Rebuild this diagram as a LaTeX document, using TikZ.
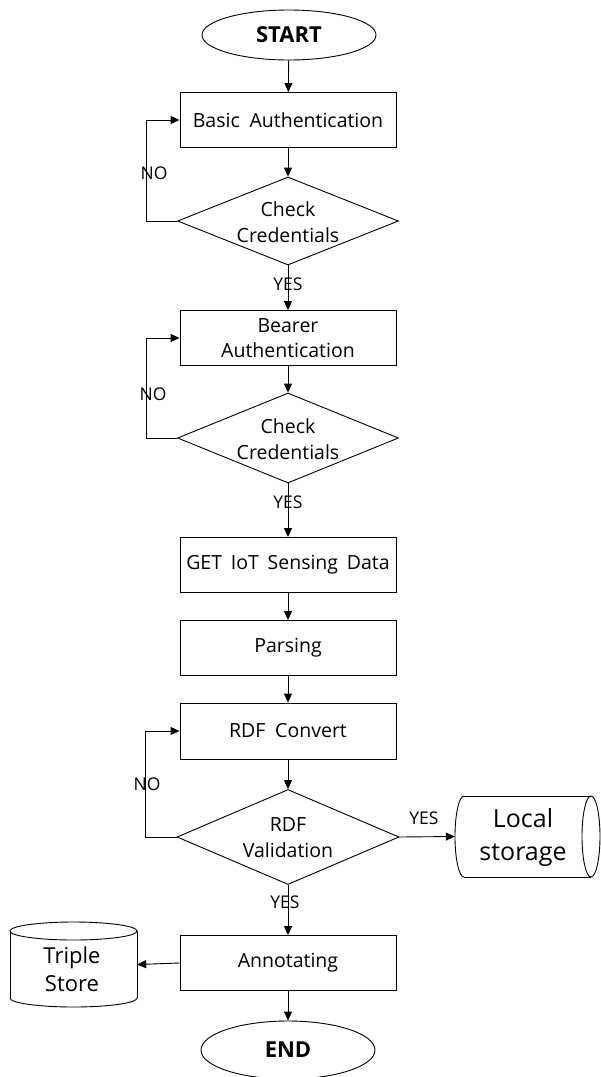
\documentclass[tikz,border=0pt]{standalone}
\usepackage{fontspec}
\setmainfont{Open Sans}
\usetikzlibrary{shapes.geometric,arrows.meta}
\begin{document}
\begin{tikzpicture}[x=1pt,y=-1pt,
  lw/.style={line width=0.9pt},
  box/.style={draw,lw,rectangle,minimum width=216pt,minimum height=55pt,inner sep=0pt,align=center,font=\fontsize{19.5}{25}\selectfont},
  dia/.style={draw,lw,diamond,minimum width=221pt,minimum height=88pt,inner sep=0pt},
  diatext/.style={align=center,inner sep=0pt,font=\fontsize{19.5}{26}\selectfont},
  term/.style={draw,lw,ellipse,minimum width=174pt,minimum height=50pt,inner sep=0pt,font=\bfseries\fontsize{22}{26}\selectfont},
  storebox/.style={rectangle,inner sep=0pt,align=center},
  arr/.style={lw,-{Triangle[length=9pt,width=8pt]}},
  lab/.style={inner sep=0pt,font=\fontsize{17.5}{20}\selectfont}]
\useasboundingbox (0,0) rectangle (601,1077);

\node[term] (start) at (289,35) {START};
\node[box] (basic) at (288,120) {Basic\hspace{0.5em}Authentication};
\node[dia] (d1) at (288,221) {};
\node[diatext] (d1t) at (288,222) {Check\\Credentials};
\node[box] (bearer) at (288,338) {Bearer\\Authentication};
\node[dia,minimum height=90pt] (d2) at (288,438) {};
\node[diatext] (d2t) at (288,439) {Check\\Credentials};
\node[box] (get) at (288,565) {GET\hspace{0.45em}IoT\hspace{0.45em}Sensing\hspace{0.45em}Data};
\node[box] (parse) at (288,648) {Parsing};
\node[box,minimum height=56pt] (rdf) at (288,731) {RDF\hspace{0.5em}Convert};
\node[dia,minimum width=222pt,minimum height=95pt] (d3) at (288,837) {};
\node[diatext] (d3t) at (288,838) {RDF\\Validation};
\node[box] (annot) at (288,963) {Annotating};
\node[term,minimum height=58pt] (end) at (288,1050) {END};

% Local storage (horizontal cylinder)
\node[storebox,minimum width=145pt,minimum height=81pt] (local) at (527.5,836.5) {};
\draw[lw] (464,796) -- (591,796) (464,877) -- (591,877);
\draw[lw] (591,836.5) ellipse [x radius=9pt, y radius=40.5pt];
\draw[lw] (464,796) arc[start angle=90, end angle=270, x radius=9pt, y radius=40.5pt];
\node[storebox,font=\fontsize{25}{33}\selectfont] (localt) at (523,837) {Local\\storage};

% Triple Store (vertical cylinder)
\node[storebox,minimum width=127pt,minimum height=85pt] (triple) at (73.5,964.5) {};
\draw[lw] (10,931) -- (10,998) (137,931) -- (137,998);
\draw[lw] (73.5,931) ellipse [x radius=63.5pt, y radius=9pt];
\draw[lw] (10,998) arc[start angle=180, end angle=360, x radius=63.5pt, y radius=9pt];
\node[storebox,font=\fontsize{22}{28}\selectfont] (triplet) at (72,969) {Triple\\Store};

% main flow
\draw[arr] (start) -- (basic);
\draw[arr] (basic) -- (d1);
\draw[arr] (d1) -- (bearer);
\draw[arr] (bearer) -- (d2);
\draw[arr] (d2) -- (get);
\draw[arr] (get) -- (parse);
\draw[arr] (parse) -- (rdf);
\draw[arr] (rdf) -- (d3);
\draw[arr] (d3) -- (annot);
\draw[arr] (annot) -- (end);
\draw[arr] (d3.east) -- (local.west);
\draw[arr] (annot.west) -- (triple.east);

% NO loops
\draw[arr] (d1.west) -- ++(-31,0) |- (basic.west);
\draw[arr] (d2.west) -- ++(-31,0) |- (bearer.west);
\draw[arr] (d3.west) -- ++(-31,0) |- (rdf.west);

% labels
\node[lab] (no1) at (154,173) {NO};
\node[lab] (no2) at (153,394) {NO};
\node[lab] (no3) at (147,784) {NO};
\node[lab] (yes1) at (288,284) {YES};
\node[lab] (yes2) at (288,502) {YES};
\node[lab] (yes3) at (285,902) {YES};
\node[lab] (yes4) at (424,818) {YES};
\end{tikzpicture}
\end{document}
